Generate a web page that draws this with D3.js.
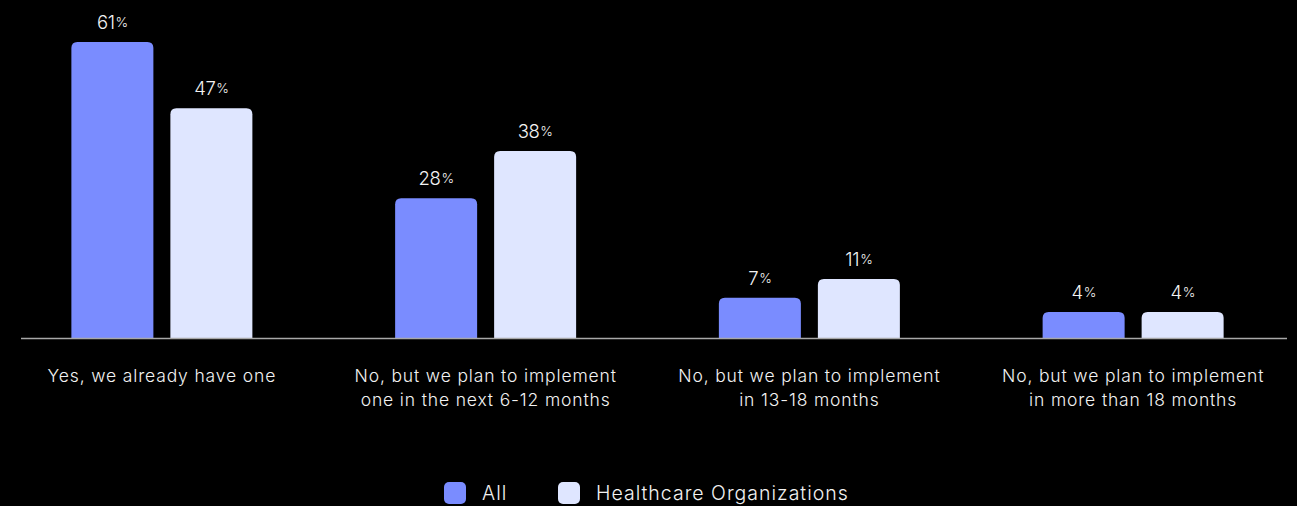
<!DOCTYPE html>
<html>
<head>
<meta charset="utf-8">
<script src="https://cdn.jsdelivr.net/npm/d3@7"></script>
<style>
  html, body { margin: 0; padding: 0; background: #000; }
  svg { display: block; }
  text { font-family: Inter, "Noto Sans", sans-serif; fill: #f2f2f2; font-weight: 300; }
</style>
</head>
<body>
<svg id="chart" width="1297" height="506"></svg>
<script>
// Survey answers (two lines each where the label wraps)
const categories = [
  ["Yes, we already have one"],
  ["No, but we plan to implement", "one in the next 6-12 months"],
  ["No, but we plan to implement", "in 13-18 months"],
  ["No, but we plan to implement", "in more than 18 months"]
];
const seriesNames = ["All", "Healthcare Organizations"];
const allValues = [61, 28, 7, 4];
const healthcareValues = [47, 38, 11, 4];
const colors = ["#7a8cff", "#dfe6ff"];

const svg = d3.select("#chart");
const baseline = 338;

const x0 = d3.scaleBand().domain(d3.range(categories.length)).range([0, 1295]).padding(0);
const barW = 82, gap = 17;
const groupW = barW * 2 + gap;
const x1 = d3.scaleBand().domain(seriesNames).range([0, groupW]).paddingInner(gap / (barW + gap));
const y = d3.scaleLinear().domain([0, 61]).range([331, 42]);

const series = [allValues, healthcareValues];
const rows = categories.map((c, i) => ({ i, vals: series.map((s, k) => ({ k, v: s[i] })) }));

const groups = svg.selectAll("g.grp").data(rows).join("g")
  .attr("class", "grp")
  .attr("transform", d => `translate(${x0(d.i) + x0.bandwidth() / 2 - groupW / 2},0)`);

// Bars with rounded tops, square at the baseline
groups.selectAll("path.bar").data(d => d.vals).join("path")
  .attr("class", "bar")
  .attr("fill", d => colors[d.k])
  .attr("d", d => {
    const xL = x1(seriesNames[d.k]), w = x1.bandwidth();
    const top = y(d.v), r = 6;
    return `M${xL},${baseline}V${top + r}Q${xL},${top} ${xL + r},${top}H${xL + w - r}Q${xL + w},${top} ${xL + w},${top + r}V${baseline}Z`;
  });

// Value labels with a smaller percent sign
const lbl = groups.selectAll("text.val").data(d => d.vals).join("text")
  .attr("class", "val")
  .attr("x", d => x1(seriesNames[d.k]) + x1.bandwidth() / 2)
  .attr("y", d => y(d.v) - 13)
  .attr("text-anchor", "middle")
  .style("font-size", "18.5px")
  .style("letter-spacing", "-0.4px");
lbl.append("tspan").text(d => d.v);
lbl.append("tspan").style("font-size", "13.5px").attr("dy", "-2").attr("dx", "1").text("%");

// Baseline
svg.append("line")
  .attr("x1", 21).attr("x2", 1287)
  .attr("y1", baseline + 0.5).attr("y2", baseline + 0.5)
  .attr("stroke", "#a8a8a8").attr("stroke-width", 1.5);

// Category labels
const cat = svg.selectAll("text.cat").data(categories).join("text")
  .attr("class", "cat")
  .attr("x", (d, i) => x0(i) + x0.bandwidth() / 2)
  .attr("y", 382)
  .attr("text-anchor", "middle")
  .style("font-size", "17.5px")
  .style("letter-spacing", "0.85px");
cat.selectAll("tspan").data(d => d).join("tspan")
  .attr("x", function () { return this.parentNode.getAttribute("x"); })
  .attr("dy", (d, j) => j === 0 ? 0 : 24)
  .text(d => d);

// Legend
const legendItems = [
  { name: seriesNames[0], color: colors[0], x: 444 },
  { name: seriesNames[1], color: colors[1], x: 558 }
];
const lg = svg.selectAll("g.lg").data(legendItems).join("g")
  .attr("class", "lg")
  .attr("transform", d => `translate(${d.x},482)`);
lg.append("rect").attr("width", 22).attr("height", 22).attr("rx", 5).attr("fill", d => d.color);
lg.append("text").attr("x", 38).attr("y", 18)
  .style("font-size", "19.5px").style("letter-spacing", "1px")
  .text(d => d.name);
</script>
</body>
</html>
